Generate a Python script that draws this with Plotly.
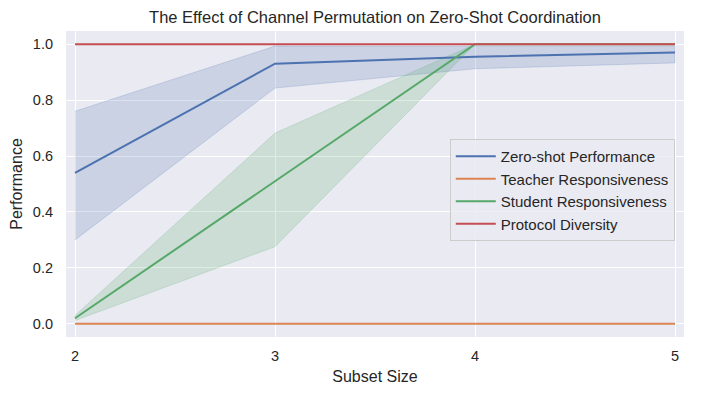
import plotly.graph_objects as go

subset_size = [2, 3, 4, 5]

zero_shot = [0.54, 0.93, 0.955, 0.97]
zero_shot_lo = [0.30, 0.843, 0.912, 0.933]
zero_shot_hi = [0.76, 0.993, 0.992, 0.992]

teacher = [0.0, 0.0, 0.0, 0.0]

student = [0.02, 0.51, 1.0, 1.0]
student_lo = [0.012, 0.276, 1.0, 1.0]
student_hi = [0.03, 0.682, 1.0, 1.0]

diversity = [1.0, 1.0, 1.0, 1.0]

BLUE = "#4C72B0"
ORANGE = "#DD8452"
GREEN = "#55A868"
RED = "#C44E52"

fig = go.Figure()


def band(lo, hi, rgb):
    # banda de confianza como poligono cerrado
    fig.add_trace(go.Scatter(
        x=subset_size + subset_size[::-1],
        y=hi + lo[::-1],
        mode="lines",
        fill="toself",
        fillcolor=f"rgba({rgb},0.2)",
        line=dict(color=f"rgba({rgb},0.2)", width=1),
        hoverinfo="skip",
        showlegend=False,
    ))


band(zero_shot_lo, zero_shot_hi, "76,114,176")
band(student_lo, student_hi, "85,168,104")

series = [
    ("Zero-shot Performance", zero_shot, BLUE),
    ("Teacher Responsiveness", teacher, ORANGE),
    ("Student Responsiveness", student, GREEN),
    ("Protocol Diversity", diversity, RED),
]
for name, vals, col in series:
    fig.add_trace(go.Scatter(
        x=subset_size, y=vals, mode="lines", name=name,
        line=dict(color=col, width=2),
    ))

# el body del html tiene 8px de margen, de ahi 693x388
fig.update_layout(
    width=693, height=388,
    paper_bgcolor="white",
    plot_bgcolor="#EAEAF2",
    font=dict(family="Liberation Sans, Arial, sans-serif", size=15, color="#262626"),
    title=dict(text="The Effect of Channel Permutation on Zero-Shot Coordination",
               x=0.5, xref="paper", y=0.977, yanchor="middle",
               font=dict(size=16.5, color="#262626")),
    margin=dict(l=58, r=17, t=23, b=59, autoexpand=False),
    legend=dict(
        x=0.621, y=0.647, xanchor="left", yanchor="top",
        bgcolor="rgba(234,234,242,0.8)", bordercolor="#CCCCCC", borderwidth=1,
        font=dict(size=15), tracegroupgap=0, itemwidth=40,
    ),
    showlegend=True,
)
fig.update_xaxes(
    range=[1.955, 5.045], tickvals=subset_size, ticktext=[str(v) for v in subset_size],
    showgrid=True, gridcolor="white", gridwidth=1.2, zeroline=False, automargin=False,
    title=dict(text="Subset Size", standoff=8, font=dict(size=16)), ticks="",
    ticklabelstandoff=8, tickfont=dict(size=14.5),
)
fig.update_yaxes(
    range=[-0.047, 1.047], tickvals=[0, 0.2, 0.4, 0.6, 0.8, 1.0], tickformat=".1f",
    showgrid=True, gridcolor="white", gridwidth=1.2, zeroline=False, automargin=False,
    title=dict(text="Performance", standoff=6, font=dict(size=16)), ticks="",
    ticklabelstandoff=12, tickfont=dict(size=14.5),
)

fig.write_html("out.html")
